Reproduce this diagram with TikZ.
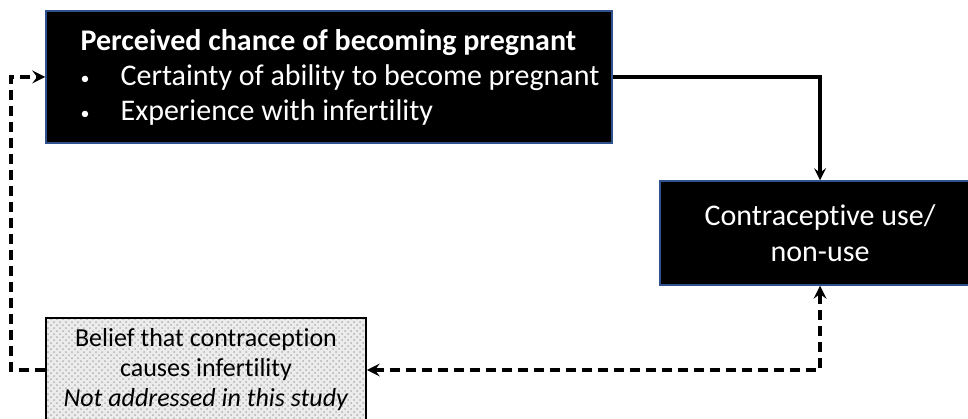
\documentclass[tikz,border=0pt]{standalone}
\usepackage{fontspec}
\setmainfont{Carlito}[Ligatures=NoCommon]
\usetikzlibrary{arrows, patterns}

\definecolor{boxblue}{RGB}{47,82,143}
\newcommand{\bulletitem}{\makebox[20pt][l]{\raisebox{0.5pt}{\small\textbullet}}}

\begin{document}
\begin{tikzpicture}[x=0.5pt, y=0.5pt,
  darkbox/.style = {draw=boxblue, line width=0.75pt, fill=black, text=white, inner sep=0pt},
  beliefbox/.style = {draw=black, line width=0.75pt, preaction={fill=gray!15}, pattern=crosshatch dots, pattern color=gray!60, inner sep=0pt, align=center},
  flow/.style = {line width=1.6pt, >=stealth, ->},
  loopback/.style = {flow, line width=1.8pt, dash pattern=on 5pt off 3pt}]
\useasboundingbox (0,0) rectangle (968,418);
\node[darkbox, minimum width=283pt, minimum height=66pt, align=left, font=\fontsize{15}{17.5}\selectfont] (chance) at (329,341)
  {\hspace*{11pt}\textbf{Perceived chance of becoming pregnant}\\
   \hspace*{11pt}\bulletitem Certainty of ability to become pregnant\\
   \hspace*{11pt}\bulletitem Experience with infertility};
\node[darkbox, minimum width=160pt, minimum height=52pt, align=center, font=\fontsize{15}{18}\selectfont] (use) at (820,185)
  {Contraceptive use/\\non-use};
\node[beliefbox, minimum width=160pt, minimum height=52pt, font=\fontsize{13}{15}\selectfont] (belief) at (206,48)
  {Belief that contraception\\causes infertility\\\textit{Not addressed in this study}};
% links between the boxes
\draw[flow] (chance.east) -| (use.north);
\draw[loopback, <->] (use.south) |- (belief.east);
\draw[loopback] (belief.west) -- ++(-34,0) |- (chance.west);
\end{tikzpicture}
\end{document}
